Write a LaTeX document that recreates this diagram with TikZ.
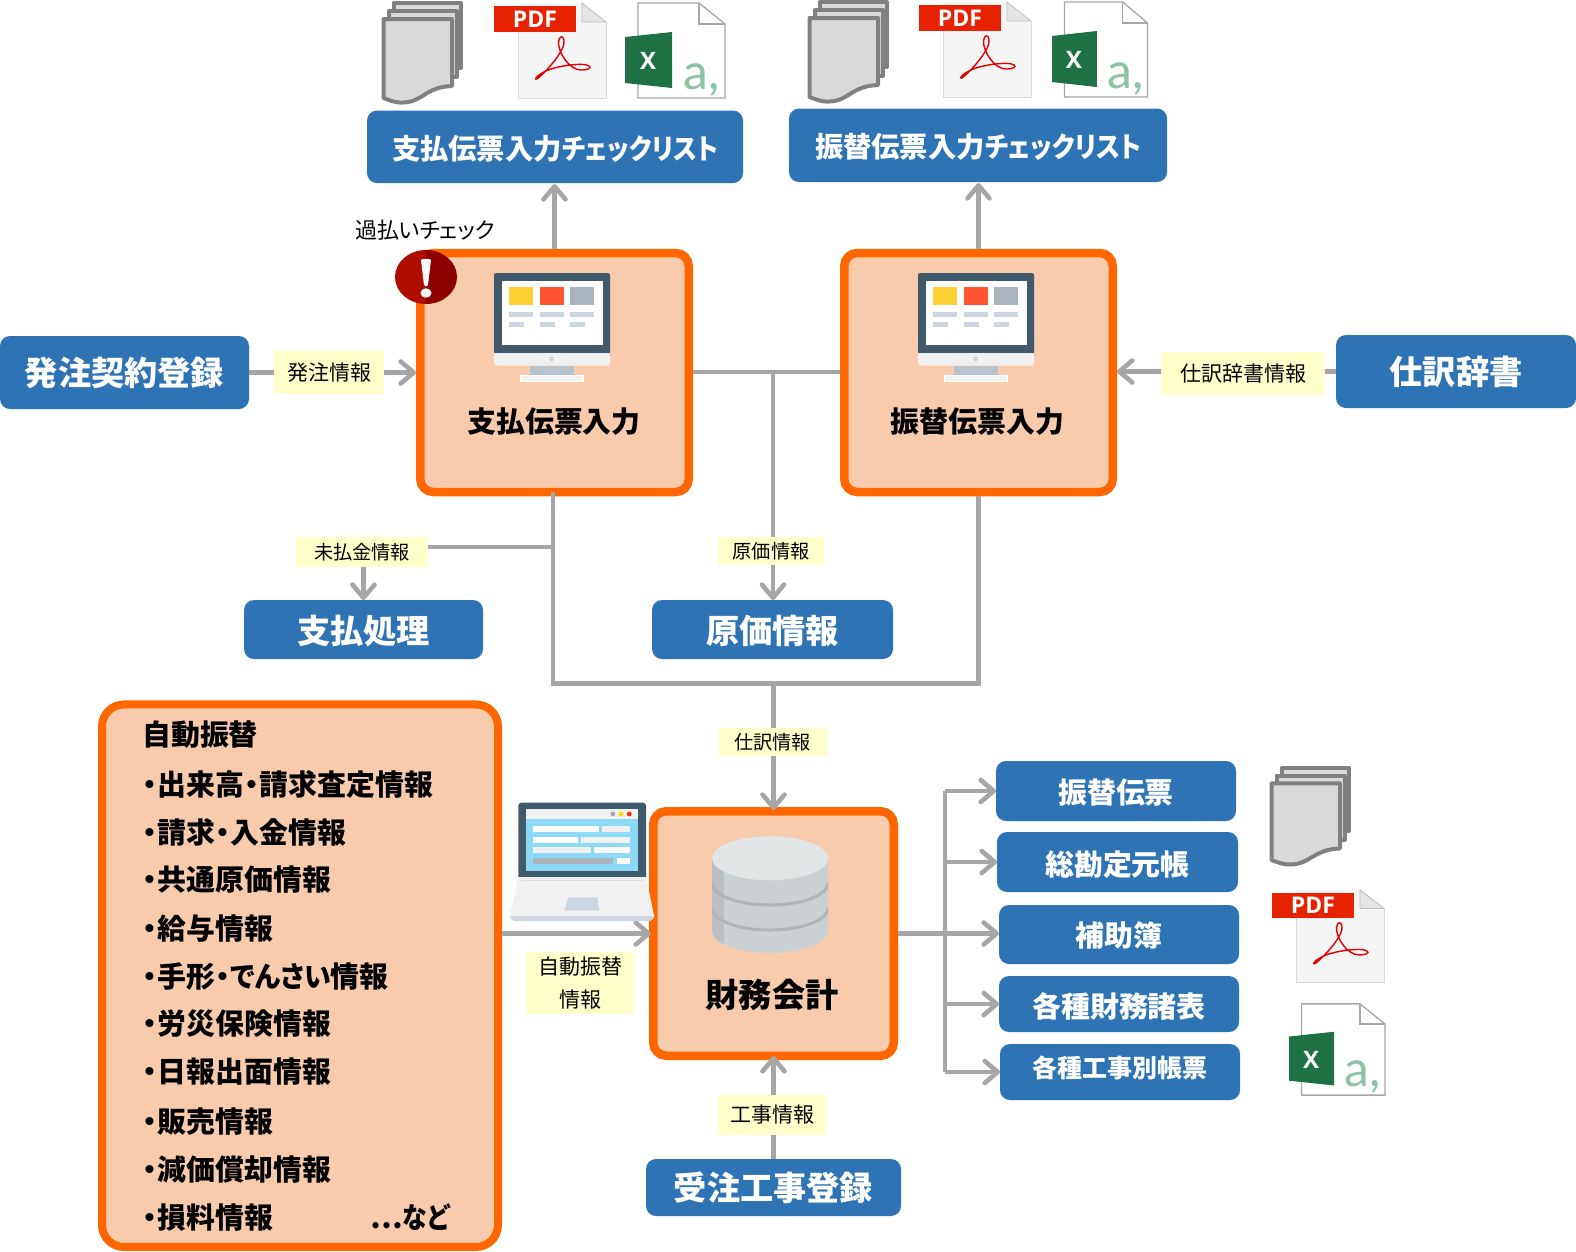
\documentclass[tikz,border=0pt]{standalone}
\usepackage{fontspec}
\usepackage{graphicx}
\setmainfont[RawFeature=+palt]{Noto Sans CJK JP}
\newfontfamily\latinb{Open Sans}
\newfontfamily\lightf{Lato}
\usetikzlibrary{arrows.meta,calc,shapes.geometric}
\definecolor{blu}{HTML}{2E74B5}
\definecolor{org}{HTML}{FF6600}
\definecolor{pch}{HTML}{F8CBAD}
\definecolor{yel}{HTML}{FFFFCC}
\definecolor{gry}{HTML}{A6A6A6}
\definecolor{slate}{HTML}{40596B}
\definecolor{pale}{HTML}{F1F1F1}
\definecolor{bar}{HTML}{CDD6E0}
\definecolor{xlgreen}{HTML}{1E7145}
\definecolor{xla}{HTML}{8CC3A5}
\definecolor{pdfred}{HTML}{E62200}
\definecolor{dbtop}{HTML}{E1E5E6}
\definecolor{dbbody}{HTML}{CBD0D3}
\definecolor{dbside}{HTML}{B9C0C3}
\definecolor{dbband}{HTML}{B0B5B8}
\newcommand{\fs}[1]{\fontsize{#1}{#1}\selectfont}
\newcommand{\mdot}{\makebox[15.5pt]{・}}
\newcommand{\narrowed}[2]{\scalebox{#1}[1]{#2}}
\newcommand{\dn}[2]{\raisebox{-#1pt}[\height][\depth]{#2}}
\tikzset{
  bluebox/.style={fill=blu,rounded corners=10pt,inner sep=0pt,outer sep=0pt,text=white,font=\bfseries\fs{#1}},
  bluebox/.default=33.2,
  procbox/.style={draw=org,fill=pch,line width=8.5pt,rounded corners=13pt,inner sep=0pt,outer sep=4.25pt},
  tag/.style={fill=yel,inner sep=0pt,outer sep=0pt,text=black,font=\fs{#1},align=center},
  tag/.default=21,
  title/.style={text=black,font=\bfseries\fs{#1},inner sep=0pt},
  listline/.style={anchor=west,text=black,font=\bfseries\fs{28.9},inner sep=0pt,text width=306pt},
  link/.style={draw=gry,line width=4.6pt},
  arr/.style={link,-{Straight Barb[length=13pt,width=22pt,round]}},
  pics/docstack/.style={code={
    \begin{scope}[line width=4pt,line join=round]
      \path[draw=black!50,fill=black!15] (12.5,3) rectangle (80,68);
      \path[draw=black!50,fill=black!15] (7.5,11) rectangle (75.5,77);
      \path[draw=black!50,fill=black!15] (2.5,19) -- (71,19) -- (71,86) .. controls (44,87) and (42,102) .. (22,102.5) .. controls (14,103) and (8,100) .. (2.5,98) -- cycle;
    \end{scope}
  }},
  pics/pdficon/.style={code={
    \fill[black!4] (24.5,3) -- (88,3) -- (112,22) -- (112,98) -- (24.5,98) -- cycle;
    \draw[black!15,line width=.8pt] (112,22) -- (112,98) -- (24.5,98) -- (24.5,30);
    \fill[black!10] (88,3) -- (112,22) -- (88,22) -- cycle;
    \draw[black!25,line width=.8pt] (88,3) -- (88,22) -- (112,22) -- cycle;
    \fill[pdfred] (0,6) rectangle (82,32);
    \node[text=white,inner sep=0pt,font=\latinb\bfseries\fs{23}] at (41,19) {PDF};
    \draw[red!90!black,line width=1.4pt] (43,79) .. controls (52,72) and (72,50) .. (70,40) .. controls (69,35) and (65,36) .. (64.5,42) .. controls (64,52) and (75,70) .. (87,70) .. controls (94,70) and (98,68) .. (95,66) .. controls (90,62) and (60,66) .. (50,72) .. controls (42,76) and (40,80) .. (43,79) -- cycle;
  }},
  pics/xlicon/.style={code={
    \draw[black!35,line width=1.3pt,fill=white] (13,3) -- (74,3) -- (100,24) -- (100,98) -- (13,98) -- cycle;
    \draw[black!35,line width=1.3pt] (74,3) -- (74,24) -- (100,24);
    \fill[xlgreen] (0,37) -- (47,32) -- (47,88) -- (0,83) -- cycle;
    \node[text=white,inner sep=0pt,font=\latinb\bfseries\fs{24}] at (23,61) {X};
    \node[text=xla,inner sep=0pt,anchor=base,font=\lightf\fs{50}] at (77,89) {a,};
  }},
  pics/monitoricon/.style={code={
    \fill[slate,rounded corners=2pt] (0,0) rectangle (116,84);
    \fill[white] (7.7,7.7) rectangle (108.7,72);
    \fill[pale,rounded corners=3pt] (0,84) rectangle (116,92.7);
    \fill[pale] (0,80) rectangle (116,86);
    \fill[bar!90!black] (36,92.7) rectangle (80,102.7);
    \draw[white,fill=pale,line width=.8pt] (26.7,102.7) rectangle (89.3,108.7);
    \fill[bar] (57.7,86) circle (2.5);
    \fill[yellow!60!orange!80!white] (15.3,14.3) rectangle (39.3,32);
    \fill[red!70!orange!80!white] (46,14.3) rectangle (70,32);
    \fill[slate!45!white] (76,14.3) rectangle (100.3,32);
    \fill[bar] (15.3,38.7) rectangle (39.3,44.3);
    \fill[bar] (46,38.7) rectangle (70,44.3);
    \fill[bar] (76,38.7) rectangle (100.3,44.3);
    \fill[bar] (15.3,48.7) rectangle (30,54.3);
    \fill[bar] (46,48.7) rectangle (60.7,54.3);
    \fill[bar] (76,48.7) rectangle (90.7,54.3);
  }},
}
\begin{document}
\begin{tikzpicture}[x=1pt,y=-1pt]
\useasboundingbox (0,0) rectangle (1576,1251);

% blue boxes
\node[bluebox=28.3,minimum width=376pt,minimum height=72.5pt] (chkA) at (555,146.8) {\dn{2}{支払伝票入力\narrowed{.89}{チェックリスト}}};
\node[bluebox=28.3,minimum width=378pt,minimum height=73.5pt] (chkB) at (978,145.3) {\dn{2}{振替伝票入力\narrowed{.89}{チェックリスト}}};
\node[bluebox,minimum width=249pt,minimum height=73pt] (order) at (124.5,372.5) {発注契約登録};
\node[bluebox,minimum width=240pt,minimum height=73pt] (dict) at (1456,371.5) {仕訳辞書};
\node[bluebox,minimum width=239pt,minimum height=59pt] (payproc) at (363.5,629.5) {\dn{1}{支払処理}};
\node[bluebox,minimum width=241pt,minimum height=59pt] (cost) at (772.5,629.5) {\dn{1}{原価情報}};
\node[bluebox,minimum width=255pt,minimum height=57pt] (works) at (773.5,1187.5) {受注工事登録};
\node[bluebox=28.9,minimum width=240pt,minimum height=60pt] (outA) at (1116,791) {\dn{2}{振替伝票}};
\node[bluebox=28.9,minimum width=241pt,minimum height=60pt] (outB) at (1117.5,862) {\dn{3}{総勘定元帳}};
\node[bluebox=28.9,minimum width=240pt,minimum height=59pt] (outC) at (1119,934.5) {\dn{1}{補助簿}};
\node[bluebox=28.9,minimum width=240pt,minimum height=56pt] (outD) at (1119,1004) {\dn{2}{各種財務諸表}};
\node[bluebox=25,minimum width=240pt,minimum height=56pt] (outE) at (1120,1072) {\dn{-4}{各種工事別帳票}\hspace{3pt}};

% process boxes
\node[procbox,minimum width=268.5pt,minimum height=239pt] (pay) at (554.5,372.5) {};
\node[procbox,minimum width=268.5pt,minimum height=239pt] (trans) at (978.5,372.5) {};
\node[procbox,minimum width=240.5pt,minimum height=244.5pt] (fin) at (773.5,933.5) {};
\node[draw=org,fill=pch,line width=8pt,rounded corners=22pt,inner sep=0pt,outer sep=4pt,minimum width=396pt,minimum height=542.5pt] (auto) at (300,975.7) {};

% connectors
\coordinate (bus) at (774,683.5);
\coordinate (paySouth) at (553,492);
\coordinate (tapA) at (553,547);
\coordinate (tapB) at (773,372);
\coordinate (trunk) at (945,933.5);
\draw[arr] (order.east) -- (pay.west |- order.east);
\draw[arr] (dict.west) -- (trans.east |- dict.west);
\draw[arr,shorten >=1pt] (pay.north) -- (pay.north |- chkA.south);
\draw[arr,shorten >=1pt] (trans.north) -- (trans.north |- chkB.south);
\draw[link] (pay.east |- tapB) -- (trans.west |- tapB);
\draw[arr] (tapB) -- (tapB |- cost.north);
\draw[link] (paySouth) -- (paySouth |- bus) -- (trans.south |- bus) -- (trans.south);
\draw[arr] (tapA) -| (payproc.north);
\draw[arr,shorten >=-3pt] (fin.north |- bus) -- (fin.north);
\draw[arr,shorten >=-4pt] (works.north) -- (fin.south);
\draw[arr,shorten >=-2pt] (auto.east |- fin.west) -- (fin.west);
\draw[link] (fin.east) -- (trunk);
\draw[link] (trunk |- outA.west) -- (trunk |- outE.west);
\draw[arr] (trunk |- outA.west) -- (outA.west);
\draw[arr] (trunk |- outB.west) -- (outB.west);
\draw[arr] (trunk) -- (trunk -| outC.west);
\draw[arr] (trunk |- outD.west) -- (outD.west);
\draw[arr] (trunk |- outE.west) -- (outE.west);

% tags
\node[tag,minimum width=110pt,minimum height=43pt] (tagOrder) at (329,372.5) {発注情報};
\node[tag,minimum width=164pt,minimum height=43pt] (tagDict) at (1243,373.5) {仕訳辞書情報};
\node[tag=19.2,minimum width=132pt,minimum height=30pt] (tagUnpaid) at (362,552) {未払金情報};
\node[tag=19.2,minimum width=106pt,minimum height=28pt] (tagCost) at (771,551) {原価情報};
\node[tag=19.2,minimum width=108pt,minimum height=28pt] (tagJournal) at (772.5,742) {仕訳情報};
\node[fill=yel,inner sep=0pt,outer sep=0pt,text=black,align=center,font=\fontsize{21}{33}\selectfont,minimum width=108pt,minimum height=62pt] (tagAuto) at (580,983) {自動振替\\情報};
\node[tag,minimum width=108pt,minimum height=40pt] (tagWorks) at (772,1115) {工事情報};

% titles
\node[title=28.9] (tPay) at (554,422) {支払伝票入力};
\node[title=28.9] (tTrans) at (977.5,422) {振替伝票入力};
\node[title=33.2] (tFin) at (772,995) {財務会計};
\node[text=black,inner sep=0pt,font=\fs{22}] (overpay) at (425,230) {過払いチェック};

% list
\node[listline] (l0) at (142,735) {自動振替};
\node[listline] (l1) at (143,784) {・出来高\mdot 請求査定情報};
\node[listline] (l2) at (143,832) {・請求\mdot 入金情報};
\node[listline] (l3) at (143,880) {・共通原価情報};
\node[listline] (l4) at (143,929) {・給与情報};
\node[listline] (l5) at (143,977) {・手形\mdot\narrowed{.93}{でんさい}情報};
\node[listline] (l6) at (143,1024) {・労災保険情報};
\node[listline] (l7) at (143,1072) {・日報出面情報};
\node[listline] (l8) at (143,1122) {・販売情報};
\node[listline] (l9) at (143,1170) {・減価償却情報};
\node[listline] (l10) at (143,1217) {・損料情報\hfill …\narrowed{.86}{など}};

% icons
\pic at (381,0) {docstack};
\pic at (494,0) {pdficon};
\pic at (625,0) {xlicon};
\pic at (807,-1) {docstack};
\pic at (919,-1) {pdficon};
\pic[xscale=.955] at (1052,-1) {xlicon};
\pic[yscale=.97] at (1269,765) {docstack};
\pic[yscale=.97] at (1272,887) {pdficon};
\pic[scale=.96] at (1289,1001) {xlicon};
\pic at (494,273) {monitoricon};
\pic at (918,273) {monitoricon};

% alert badge
\fill[red!65!black!90!orange] (426,304) arc[start angle=90,end angle=270,x radius=31,y radius=27] -- cycle;
\fill[red!55!black] (426,304) arc[start angle=90,end angle=-90,x radius=31,y radius=27] -- cycle;
\fill[white] (421,260) .. controls (421,258.5) and (431,258.5) .. (431,260) -- (428,285) .. controls (427.5,287) and (424.5,287) .. (424,285) -- cycle;
\fill[white] (426,293) ellipse (5.5 and 4.7);

% laptop
\fill[bar] (510,914) -- (654,914) -- (654,917) [rounded corners=3pt] -- (652,921) -- (512,921) -- (510,917) -- cycle;
\fill[pale] (518.3,876) -- (646,876) -- (654,916) -- (510,916) -- cycle;
\fill[slate,rounded corners=3pt] (518.3,802.7) rectangle (646,880);
\fill[pale] (518.3,876.7) rectangle (646,880);
\fill[cyan!45!white] (525.7,819) rectangle (638.3,870.7);
\fill[pale] (525.7,809.3) rectangle (638.3,819);
\fill[black!35] (612.7,814) circle (2.4);
\fill[yellow!80!orange] (621,814) circle (2.4);
\fill[red!70!orange] (629.3,814) circle (2.4);
\fill[white] (533.3,825.7) rectangle (598.7,831.7);
\fill[pale] (601.7,825.7) rectangle (630.3,831.7);
\fill[white] (533.3,836.7) rectangle (577.7,842.7);
\fill[pale] (581,836.7) rectangle (630.3,842.7);
\fill[pale] (533.3,847.3) rectangle (590.7,853.3);
\fill[white] (594,847.3) rectangle (630.3,853.3);
\fill[slate!45!white] (533.3,858) rectangle (613.3,864);
\fill[white] (616.7,858) rectangle (630.3,864);
\fill[bar] (568.3,897.3) -- (597.3,897.3) -- (599.3,910.7) -- (564.3,910.7) -- cycle;

% database
\fill[dbbody] (712,858.3) -- (712,931) arc[start angle=180,end angle=0,x radius=58,y radius=22] -- (828,858.3) -- cycle;
\begin{scope}
  \clip (712,858.3) -- (712,931) arc[start angle=180,end angle=0,x radius=58,y radius=22] -- (828,858.3) -- cycle;
  \fill[dbside] (712,850) rectangle (724,960);
  \draw[dbband,line width=3pt] (712,883) arc[start angle=180,end angle=0,x radius=58,y radius=22];
  \draw[dbband,line width=3pt] (712,908) arc[start angle=180,end angle=0,x radius=58,y radius=22];
\end{scope}
\fill[dbtop] (770,858.3) ellipse (58 and 22);
\end{tikzpicture}
\end{document}
